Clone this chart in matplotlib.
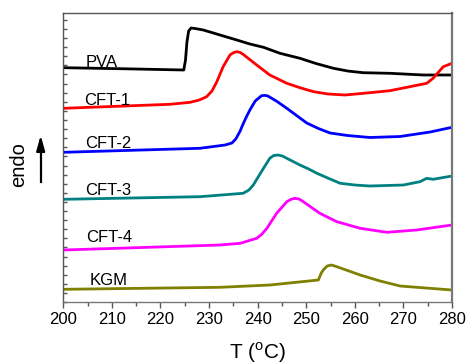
#!/usr/bin/env python

"""
dsc_plot.py - DSC curves of PVA, KGM and the CFT blends.
Heat flow is in arbitrary units, curves offset for display.
"""

import matplotlib
matplotlib.use("Agg")
import matplotlib.pyplot as plt
from matplotlib.ticker import MultipleLocator

# temperature (C) and offset heat flow (a.u.)
pva_t = [200, 211.7, 224.8, 225.15, 225.45, 225.8, 226.3, 227.1, 228.8, 232.25,
         235.7, 238.4, 241.2, 244.6, 248.7, 252.0, 255.6, 258.5, 261.7, 267.2, 274.1, 280]
pva_v = [234.3, 233.3, 232, 242, 260, 271, 274, 273.5, 272, 267,
         262, 258, 254.7, 248.7, 243.7, 238.5, 233.7, 231.0, 229.3, 228.7, 227, 227]

cft1_t = [200, 221.96, 226.1, 228.0, 229.5, 230.6, 231.6, 232.9, 234.3, 235.0, 235.7, 236.4,
          237.0, 239.8, 242.5, 246.0, 248.7, 251.5, 254.5, 258.0, 263.1, 267.2, 274.8,
          276.1, 278.2, 280]
cft1_v = [193.7, 197.7, 199.7, 202, 205.3, 211, 220.3, 235.3, 247, 249.3, 250.3, 249.6,
          247.7, 237, 227, 218.7, 214.3, 210.3, 208.0, 207, 209.3, 211.3, 218.7,
          223.7, 235.3, 238.7]

cft2_t = [200, 228.1, 233.3, 234.7, 235.5, 236.4, 237.0, 237.7, 238.4, 239.5,
          240.8, 241.5, 242.1, 244.0, 246.0, 250.1, 252.5, 254.9, 258.5, 263.1, 269.3, 275.5, 280]
cft2_v = [149.7, 153.7, 157, 159, 163, 171, 178, 185.3, 192, 201,
          206.3, 206.6, 206, 200.5, 193.7, 179, 173.5, 169, 166.5, 164.5, 165.5, 170, 174.7]

cft3_t = [200, 228.1, 237.0, 238.2, 239.1, 241.2, 242.5, 243.3, 244.2, 245.1, 246.0, 248.7,
          250.5, 252.2, 254.9, 257.0, 260.0, 263.1, 270.0, 273.4, 274.8, 276.1, 280]
cft3_v = [102.7, 105.3, 108.7, 112, 117, 133.7, 143.7, 146.5, 147, 146, 143.7, 137,
          133, 128.7, 123, 118.7, 117, 116, 117, 120.3, 123.7, 122.7, 126]

cft4_t = [200, 232.25, 236.4, 239.8, 240.8, 241.9, 243.9, 246.0, 246.9, 247.7,
          248.6, 249.4, 252.8, 256.3, 261.1, 266.6, 272.7, 280]
cft4_v = [52, 57, 58.7, 63.7, 67.5, 73.7, 88.7, 100.3, 102.8, 103.7,
          102.8, 100.3, 88.7, 80.3, 73.7, 69.7, 72, 77]

kgm_t = [200, 232.25, 242.5, 252.5, 253.1, 253.5, 254.3, 255.2, 256.3, 261.1, 265.2, 269.3, 280]
kgm_v = [12.7, 14.7, 17, 22, 29, 32, 36, 37, 35.3, 27, 21, 16, 12]

names = ["PVA", "CFT-1", "CFT-2", "CFT-3", "CFT-4", "KGM"]
label_y = [235, 197, 154, 107, 60, 17]
x_ticks = [200, 210, 220, 230, 240, 250, 260, 270, 280]


def style_axes(ax):
    ax.set_xlim(200, 280)
    ax.set_ylim(0, 289)
    ax.set_xticks(x_ticks)
    ax.xaxis.set_minor_locator(MultipleLocator(5))
    ax.yaxis.set_major_locator(MultipleLocator(9.1))
    ax.set_yticklabels([])
    ax.tick_params(axis='x', which='major', direction='out', length=4, width=1,
                   color='#555555', labelsize=12, pad=3)
    ax.tick_params(axis='x', which='minor', direction='out', length=3, width=1,
                   color='#555555')
    ax.tick_params(axis='y', which='both', direction='in', length=3, width=1,
                   color='#555555', left=True, right=False)
    for s in ax.spines.values():
        s.set_color('#555555')
        s.set_linewidth(1.0)
    ax.spines['right'].set_color('#777777')
    ax.spines['right'].set_linewidth(1.6)
    ax.spines['bottom'].set_color('#777777')


def main():
    plt.rcParams['font.family'] = ['Liberation Sans', 'DejaVu Sans']
    plt.rcParams['mathtext.fontset'] = 'custom'
    plt.rcParams['mathtext.rm'] = 'Liberation Sans'

    fig = plt.figure(figsize=(4.66, 3.64), dpi=100)
    ax = fig.add_axes([0.1358, 0.1703, 0.8342, 0.794])

    curves = [(pva_t, pva_v, 'black'),
              (cft1_t, cft1_v, '#ff0000'),
              (cft2_t, cft2_v, '#0000ff'),
              (cft3_t, cft3_v, '#008080'),
              (cft4_t, cft4_v, '#ff00ff'),
              (kgm_t, kgm_v, '#808000')]
    for t, v, c in curves:
        ax.plot(t, v, color=c, lw=2.0, solid_joinstyle='round')

    lx = [204.7, 204.3, 204.5, 204.5, 204.7, 205.5]
    for n, x, y in zip(names, lx, label_y):
        ax.text(x, y, n, fontsize=12, ha='left', va='baseline')

    style_axes(ax)

    ax.set_xlabel(r'T ($^{\mathrm{o}}$C)', fontsize=15, labelpad=10)
    fig.text(0.041, 0.547, 'endo', rotation=90, fontsize=14.5, ha='center', va='center')
    fig.add_artist(plt.Line2D([0.0873, 0.0873], [0.50, 0.60], color='black', lw=1.6,
                              transform=fig.transFigure))
    ax.annotate('', xy=(0.0873, 0.636), xycoords='figure fraction',
                xytext=(0.0873, 0.59), textcoords='figure fraction',
                arrowprops=dict(arrowstyle='-|>,head_length=0.9,head_width=0.25',
                                color='black', lw=1.6))

    fig.savefig('out.png', dpi=100)


if __name__ == "__main__":
    main()
